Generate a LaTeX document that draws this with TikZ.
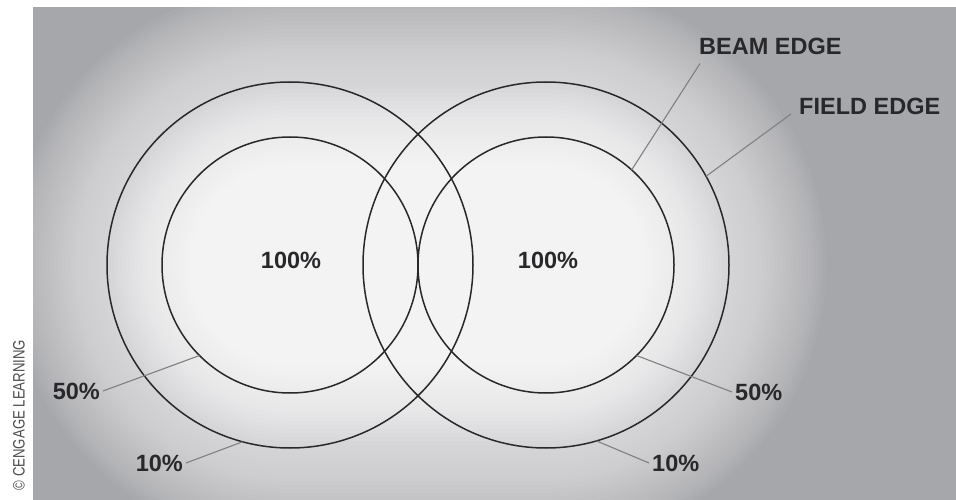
\documentclass[tikz,border=0pt]{standalone}
\usepackage{fontspec}
\setmainfont{Liberation Sans}
\usetikzlibrary{calc}

\definecolor{bggray}{RGB}{166,167,171}
\definecolor{inkgray}{RGB}{40,40,42}

\begin{document}
\begin{tikzpicture}[
    x=1pt, y=-1pt,
    font=\fontsize{23.5}{28}\selectfont\bfseries,
    ring/.style={draw=inkgray, line width=1.5pt, circle, minimum size=#1, inner sep=0pt, outer sep=0pt},
    leader/.style={draw=black!50, line width=1.1pt},
    tag/.style={text=inkgray, inner sep=3pt},
    glow/.style={fill=white, opacity=#1}
]
  \useasboundingbox (0,0) rectangle (956,500);
  \fill[bggray] (33,7) rectangle (956,500);

  % soft glow round both fields
  \foreach \r/\o in {280/.04,276/.04,272/.04,268/.04,264/.04,260/.04,256/.04,252/.04,248/.04,244/.04,240/.04,236/.04,232/.04,228/.04,224/.04,220/.04,216/.04,212/.04,208/.04,204/.04,200/.04,196/.04,192/.04,188/.04,184/.04,180/.04,
                   176/.08,172/.08,168/.08,164/.08,160/.08,156/.08,152/.08,148/.08,144/.08,140/.08,136/.08,132/.08,128/.08,124/.08,120/.08,116/.08,112/.08,108/.08,104/.08,100/.08}
    \fill[glow=\o] (290,265) ++(0,-\r) -- ++(256,0) arc[start angle=-90, end angle=90, radius=\r]
      -- ++(-256,0) arc[start angle=90, end angle=270, radius=\r] -- cycle;

  \node[ring=366pt] (fieldL) at (290,265) {};
  \node[ring=256pt] (beamL) at (290,265) {};
  \node[ring=366pt] (fieldR) at (546,265) {};
  \node[ring=256pt] (beamR) at (546,265) {};

  \node[tag] (fullL) at (291,260) {100\%};
  \node[tag] (fullR) at (548,260) {100\%};

  \node[tag, anchor=west] (beamlbl) at (696,46) {BEAM EDGE};
  \node[tag, anchor=west] (fieldlbl) at (796,106) {FIELD EDGE};
  \node[tag, anchor=east] (halfL) at (103,391) {50\%};
  \node[tag, anchor=east] (tenL) at (186,463) {10\%};
  \node[tag, anchor=west] (halfR) at (732,392) {50\%};
  \node[tag, anchor=west] (tenR) at (649,463) {10\%};

  \draw[leader] (beamR.48) -- ($(beamlbl.south west)+(4,6)$);
  \draw[leader] (fieldR.29) -- ($(fieldlbl.west)+(-5,8)$);
  \draw[leader] (beamL.225) -- (halfL.east);
  \draw[leader] (fieldL.255) -- (tenL.east);
  \draw[leader] (beamR.315) -- (halfR.west);
  \draw[leader] (fieldR.286) -- (tenR.west);

  \node[rotate=90, text=black!70, font=\fontsize{16.5}{18}\selectfont] (credit) at (19,415)
    {\scalebox{0.8}[1]{\textcopyright\ CENGAGE LEARNING}};
\end{tikzpicture}
\end{document}
